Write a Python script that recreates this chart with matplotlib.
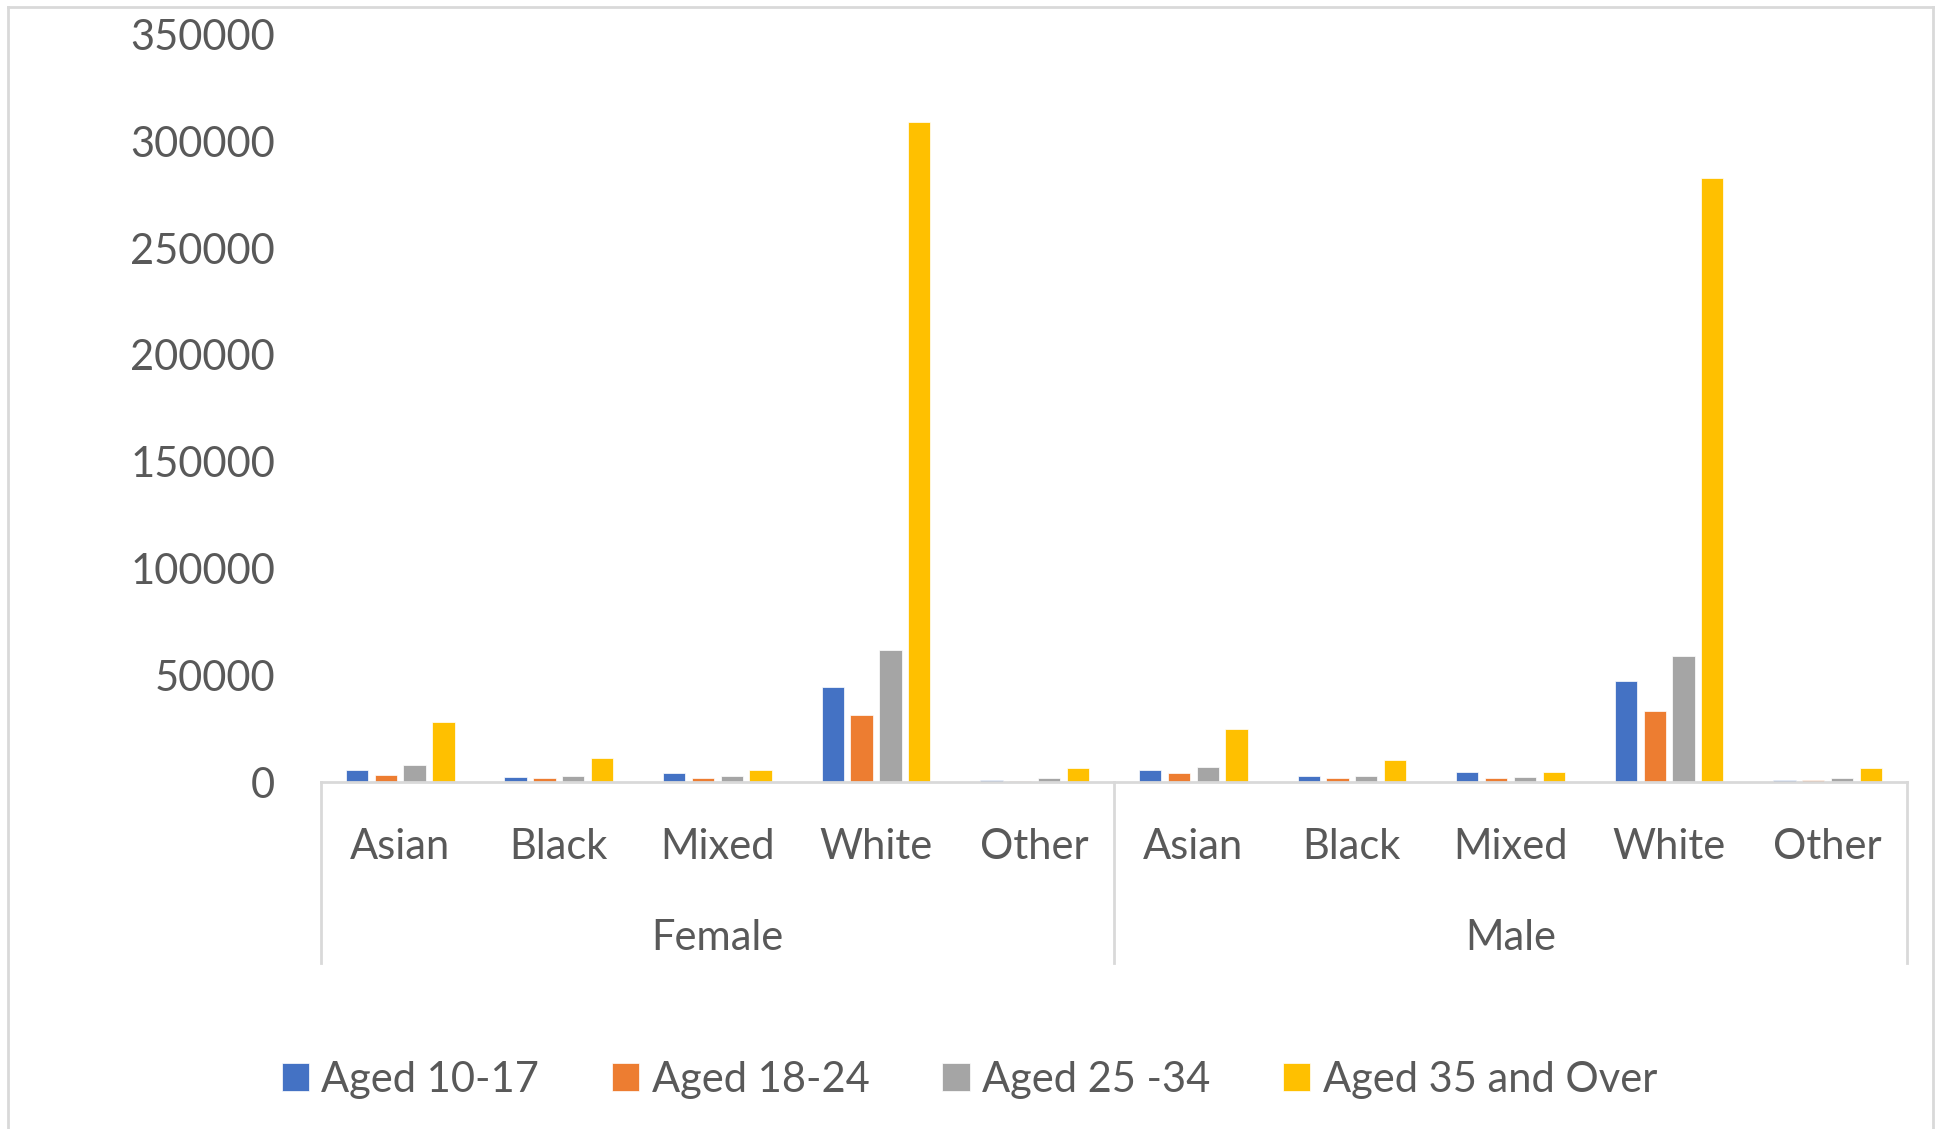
import matplotlib.pyplot as plt
from matplotlib.lines import Line2D
import numpy as np

plt.rcParams['font.family'] = ['Lato', 'DejaVu Sans']

genders = ['Female', 'Male']
ethnicities = ['Asian', 'Black', 'Mixed', 'White', 'Other']
series_names = ['Aged 10-17', 'Aged 18-24', 'Aged 25 -34', 'Aged 35 and Over']
colors = ['#4472C4', '#ED7D31', '#A5A5A5', '#FFC000']

# values per category: Female Asian..Other, then Male Asian..Other
aged_10_17 = [5500, 2500, 4200, 44600, 900, 5600, 2700, 4700, 47300, 1100]
aged_18_24 = [3400, 1900, 1700, 31400, 600, 4200, 1900, 1900, 33400, 800]
aged_25_34 = [8100, 2800, 2700, 61800, 1700, 6900, 2700, 2300, 59100, 2000]
aged_35_over = [28100, 11400, 5500, 309000, 6400, 24800, 10200, 4700, 282900, 6400]
series = [aged_10_17, aged_18_24, aged_25_34, aged_35_over]

text_col = '#595959'
line_col = '#D9D9D9'

fig = plt.figure(figsize=(19.39, 11.29), dpi=100)
ax = fig.add_axes([0.1655, 0.3073, 0.818, 0.6622])

x = np.arange(len(genders) * len(ethnicities))
pitch = 0.1816
width = 0.1406
for i, (vals, name, c) in enumerate(zip(series, series_names, colors)):
    ax.bar(x + (i - 1.5) * pitch, vals, width, color=c, label=name,
           edgecolor='white', linewidth=0.5)

ax.set_xlim(-0.5, len(x) - 0.5)
ax.set_ylim(0, 350000)
ax.set_yticks(np.arange(0, 350001, 50000))
ax.set_yticklabels([str(v) for v in range(0, 350001, 50000)])
ax.tick_params(axis='y', length=0, pad=33, labelsize=30, labelcolor=text_col)
ax.set_xticks([])
for s in ['top', 'right', 'left']:
    ax.spines[s].set_visible(False)
ax.spines['bottom'].set_color(line_col)
ax.spines['bottom'].set_linewidth(2)

# category labels and group labels (two-level axis)
ax_y = lambda fy: ((1129 - fy) / 1129 - 0.3073) / 0.6622
labels = ethnicities * len(genders)
for xi, lab in zip(x, labels):
    ax.text(xi, ax_y(847), lab, transform=ax.get_xaxis_transform(),
            ha='center', va='center', fontsize=30, color=text_col)
for gi, g in enumerate(genders):
    ax.text(gi * 5 + 2, ax_y(938), g, transform=ax.get_xaxis_transform(),
            ha='center', va='center', fontsize=30, color=text_col)
for sx in [0, 0.5, 1]:
    ax.plot([sx, sx], [0, ax_y(963)], transform=ax.transAxes, color=line_col,
            linewidth=2, clip_on=False)

fig.legend(loc='center', bbox_to_anchor=(0.5, 0.0434), ncol=4, frameon=False,
           fontsize=30, labelcolor=text_col, handlelength=0.65, handleheight=0.65,
           handletextpad=0.3, columnspacing=1.75)

# chart border
for xs, ys in [([8, 8], [1129, 7]), ([8, 1933], [7, 7]), ([1933, 1933], [7, 1129])]:
    fig.add_artist(Line2D([v / 1939 for v in xs], [1 - v / 1129 for v in ys],
                          color=line_col, linewidth=2))

fig.savefig('out.png', dpi=100)
